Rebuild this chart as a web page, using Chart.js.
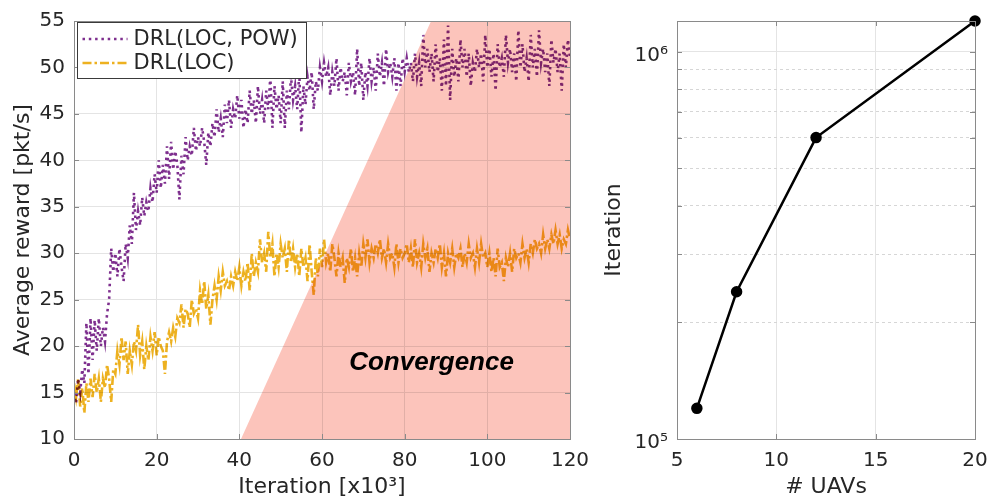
<!DOCTYPE html>
<html><head><meta charset="utf-8">
<script src="https://cdn.jsdelivr.net/npm/chart.js@4"></script>
<style>
html,body{margin:0;padding:0;background:#fff;overflow:hidden;width:989px;height:497px;}
#c1{position:absolute;left:0;top:0;}
#c2{position:absolute;left:590px;top:0;}
</style></head><body>
<canvas id="c1" width="590" height="497"></canvas>
<canvas id="c2" width="399" height="497"></canvas>
<script>
// ---------- data (left panel): average reward vs iteration [x10^3], sampled every 0.5k ----------
const iterStepK = 0.5;
const rewardLocPow = [
 15, 13.8, 16.5, 15, 17.5, 16, 22.5, 17, 23, 18.5, 22.8, 19.5, 23, 20, 22, 20.5, 23.5, 25, 30.5, 28,
 30, 27.5, 30.5, 28.5, 27, 31, 29.5, 33, 31, 36.5, 32.5, 34.5, 33, 36, 34, 35.5, 34.5, 37, 35.5, 38.5,
 36.5, 40, 37, 39.5, 37.5, 41.5, 38, 42, 39, 41, 39.5, 35.8, 40.5, 38.5, 42.5, 40, 41.5, 40.5, 43.5, 41,
 42.5, 41.5, 43.5, 42, 39.5, 43, 41.5, 44, 42.5, 45.5, 43, 44.5, 42.5, 46, 44, 46.5, 43.5, 45.5, 44.5, 47,
 44.5, 46.5, 43.5, 45.5, 44, 47.5, 45, 46.5, 44, 48, 45, 46.5, 44, 47.5, 45.5, 49, 43.5, 48, 45.5, 47,
 44, 48.5, 43.5, 47.5, 45.5, 49, 46.5, 48, 45.5, 49.5, 43, 48, 46, 49, 47.5, 49.5, 45.5, 48.5, 47.5, 50,
 48.5, 50.5, 49, 50, 47, 49.5, 48, 51, 47.5, 50, 48.5, 49.5, 47, 50.5, 48.5, 49.5, 47, 52, 48, 50.5,
 46.5, 49.5, 48, 51, 48.5, 50, 47.5, 51.5, 49, 50.5, 48, 52, 49.5, 50.5, 49, 51, 47.5, 50.5, 48, 51,
 49.5, 51, 49.5, 50.5, 48.5, 51.5, 49, 50.5, 48, 53.5, 50, 52, 49.5, 51.5, 48.5, 52.5, 49.5, 51, 47.5, 53,
 48, 54.5, 46.5, 52, 49, 51, 48.5, 53, 50, 52, 49, 51.5, 48, 50.5, 49.5, 52, 50, 51.5, 48.5, 53.5,
 50, 52, 49, 51.5, 47.5, 52.5, 50, 51, 49, 53.5, 50.5, 52, 49.5, 51.5, 48.5, 54, 50, 52.5, 49.5, 51,
 48.5, 53.5, 50, 52, 49, 54, 50.5, 52, 49.5, 51.5, 48, 53, 50.5, 52, 49.5, 51.5, 47.5, 52.5, 50, 53,
 51
];
const rewardLoc = [
 16, 14.5, 16.5, 13.5, 15.5, 12.8, 16, 14, 16.5, 14.5, 17, 15, 16.5, 14, 16.5, 15.5, 18, 16.5, 14, 17.5,
 17, 19.5, 18, 21, 18.5, 20.5, 17, 19.5, 18, 20.5, 19.5, 22.3, 19, 20.5, 17.5, 20, 18.5, 21, 19.5, 21.5,
 19, 21, 20, 19.5, 17, 20.5, 21.5, 20.5, 22, 21, 23, 22.5, 24.5, 22, 24, 23.5, 22, 25, 23.5, 24,
 23, 26, 24.5, 27, 24, 25.5, 22.3, 25, 26.5, 25, 27.5, 26, 28, 26.5, 27, 26, 27.5, 26.5, 28, 27,
 28.5, 26.5, 28, 27, 29, 26, 30, 27.5, 29, 28, 31.5, 29, 30, 28, 32.3, 29.5, 31, 27.5, 30, 28.5,
 31, 29.5, 30.5, 28, 31.5, 29, 30.5, 28.5, 30, 27.5, 30.5, 28.5, 29.5, 27, 31, 28, 25.5, 29.5, 27.5, 30.5,
 28.5, 31.5, 29, 30, 28, 31, 29.5, 27.5, 30, 28.5, 29.5, 26.8, 29.5, 28.5, 30.5, 28, 29.5, 27.5, 30, 28.5,
 31, 29.5, 31.5, 29, 30.5, 29.5, 31, 30, 31.5, 29.5, 30.5, 29, 31, 29.5, 30, 28.5, 31, 29, 30.5, 29.5,
 30, 31, 29, 30.5, 28.5, 31.5, 29, 30, 28.5, 31, 29.5, 30.5, 28, 30, 29, 30.5, 29.5, 31, 28.5, 30,
 27.5, 30, 29, 30.5, 28.5, 30, 29.5, 30.5, 28.5, 30, 29, 31, 29.5, 30, 28.5, 30.5, 29, 31, 29.5, 30,
 28.5, 30, 28, 29.5, 27.5, 30.5, 28.5, 29, 27, 29.5, 28.5, 30, 28, 30.5, 29.5, 30, 29, 31, 29.5, 30.5,
 29, 31, 30, 31.5, 30.5, 31, 30, 32, 30.5, 31.5, 30.5, 32, 31, 32.5, 31, 32, 30.5, 31.5, 31, 32.5,
 31.5
];
const iterationsK = rewardLocPow.map((_, i) => i * iterStepK);
const seriesNames = ['DRL(LOC, POW)', 'DRL(LOC)'];
// convergence region outline (x in k-iterations, y in reward)
const convergenceX = [40.4, 86.4, 120];
const convergenceY = [10, 55, 55];
const convergenceLabel = 'Convergence';
const convergenceLabelAt = [86.5, 18.2];
const xTicksLeft = [0, 20, 40, 60, 80, 100, 120];
const yTicksLeft = [10, 15, 20, 25, 30, 35, 40, 45, 50, 55];

// ---------- data (right panel): iterations to converge vs number of UAVs ----------
const numUAVs = [6, 8, 12, 20];
const itersToConverge = [1.2e5, 2.4e5, 6.0e5, 1.2e6];
const xTicksRight = [5, 10, 15, 20];

const FONT = '"DejaVu Sans", sans-serif';
const TXT = '#262626';
const AXIS = '#8a8a8a';
const GRID = '#e4e4e4';
const PURPLE = '#7E2F8E';
const ORANGE = '#EDB120';
const PINK = 'rgb(252,196,187)';

const multiplyPlugin = {
  id: 'multiply',
  beforeDatasetsDraw(chart) { chart.ctx.save(); chart.ctx.globalCompositeOperation = 'multiply'; },
  afterDatasetsDraw(chart) { chart.ctx.restore(); }
};

function frameAndTicks(chart, xId, yId, len) {
  const ctx = chart.ctx, a = chart.chartArea;
  ctx.save();
  ctx.strokeStyle = AXIS; ctx.lineWidth = 1;
  ctx.strokeRect(Math.round(a.left) + 0.5, Math.round(a.top) + 0.5, Math.round(a.right - a.left), Math.round(a.bottom - a.top));
  ctx.beginPath();
  chart.scales[xId].ticks.forEach(t => {
    const px = Math.round(chart.scales[xId].getPixelForValue(t.value)) + 0.5;
    ctx.moveTo(px, a.bottom); ctx.lineTo(px, a.bottom - len);
    ctx.moveTo(px, a.top); ctx.lineTo(px, a.top + len);
  });
  chart.scales[yId].ticks.forEach(t => {
    const py = Math.round(chart.scales[yId].getPixelForValue(t.value)) + 0.5;
    ctx.moveTo(a.left, py); ctx.lineTo(a.left + len, py);
    ctx.moveTo(a.right, py); ctx.lineTo(a.right - len, py);
  });
  ctx.stroke();
  ctx.restore();
}

const leftDecor = {
  id: 'leftDecor',
  afterDraw(chart) {
    const ctx = chart.ctx, a = chart.chartArea;
    frameAndTicks(chart, 'x', 'y', 5);
    ctx.save();
    ctx.font = 'italic bold 26px "Liberation Sans", Arial, sans-serif';
    ctx.fillStyle = '#000';
    ctx.textAlign = 'center'; ctx.textBaseline = 'middle';
    ctx.fillText(convergenceLabel, chart.scales.x.getPixelForValue(convergenceLabelAt[0]), chart.scales.y.getPixelForValue(convergenceLabelAt[1]));
    ctx.restore();
    ctx.save();
    const bx = Math.round(a.left) + 3.5, by = Math.round(a.top) + 1.5, bw = 229, bh = 56;
    ctx.fillStyle = '#fff'; ctx.fillRect(bx, by, bw, bh);
    ctx.strokeStyle = '#3a3a3a'; ctx.lineWidth = 1; ctx.strokeRect(bx, by, bw, bh);
    ctx.font = '21px ' + FONT; ctx.fillStyle = TXT; ctx.textBaseline = 'middle'; ctx.textAlign = 'left';
    [0, 1].forEach(i => {
      const ds = chart.data.datasets[i];
      const yy = by + 16.5 + i * 24;
      ctx.save();
      ctx.strokeStyle = ds.borderColor; ctx.lineWidth = ds.borderWidth; ctx.setLineDash(ds.borderDash);
      ctx.beginPath(); ctx.moveTo(bx + 5, yy); ctx.lineTo(bx + 50, yy); ctx.stroke();
      ctx.restore();
      ctx.fillText(ds.label, bx + 56, yy + 1);
    });
    ctx.restore();
  }
};

const rightDecor = {
  id: 'rightDecor',
  afterDraw(chart) { frameAndTicks(chart, 'x', 'y', 5); }
};

const fitX = s => { s.height = 58; s.paddingLeft = 0; s.paddingRight = 0; };

new Chart(document.getElementById('c1'), {
  type: 'line',
  data: {
    datasets: [
      { label: seriesNames[0], data: iterationsK.map((x, i) => ({ x, y: rewardLocPow[i] })),
        borderColor: PURPLE, borderWidth: 2.6, borderDash: [2.5, 3.8], pointRadius: 0, tension: 0, fill: false, order: 1 },
      { label: seriesNames[1], data: iterationsK.map((x, i) => ({ x, y: rewardLoc[i] })),
        borderColor: ORANGE, borderWidth: 2.6, borderDash: [9, 3, 2.5, 3], pointRadius: 0, tension: 0, fill: false, order: 2 },
      { label: 'region', data: convergenceX.map((x, i) => ({ x, y: convergenceY[i] })),
        borderWidth: 0, borderColor: 'rgba(0,0,0,0)', backgroundColor: PINK, pointRadius: 0, fill: { value: 10 }, order: 10 }
    ]
  },
  options: {
    responsive: false, animation: false,
    layout: { padding: { left: 0, right: 20, top: 21, bottom: 0 } },
    plugins: { legend: { display: false }, tooltip: { enabled: false } },
    scales: {
      x: {
        type: 'linear', min: 0, max: 120,
        afterBuildTicks: s => { s.ticks = xTicksLeft.map(v => ({ value: v })); },
        afterFit: fitX,
        grid: { color: GRID, drawTicks: false },
        border: { color: AXIS },
        ticks: { padding: 10, color: TXT, font: { family: FONT, size: 20 }, maxRotation: 0 },
        title: { display: true, text: 'Iteration [x10³]', color: TXT, font: { family: FONT, size: 22, lineHeight: 1 }, padding: { top: 0, bottom: -1 } }
      },
      y: {
        type: 'linear', min: 10, max: 55,
        afterBuildTicks: s => { s.ticks = yTicksLeft.map(v => ({ value: v })); },
        afterFit: s => { s.width = 74; },
        grid: { color: GRID, drawTicks: false },
        border: { color: AXIS },
        ticks: { padding: 9, color: TXT, font: { family: FONT, size: 20 } },
        title: { display: true, text: 'Average reward [pkt/s]', color: TXT, font: { family: FONT, size: 22, lineHeight: 1 }, padding: { top: 12, bottom: 0 } }
      }
    }
  },
  plugins: [multiplyPlugin, leftDecor]
});

const isPow10 = v => Math.abs(Math.log10(v) - Math.round(Math.log10(v))) < 1e-9;
const supers = { '5': '⁵', '6': '⁶', '7': '⁷', '4': '⁴' };

new Chart(document.getElementById('c2'), {
  type: 'line',
  data: {
    datasets: [
      { label: 'Iteration', data: numUAVs.map((x, i) => ({ x, y: itersToConverge[i] })),
        borderColor: '#000', borderWidth: 2.5, pointRadius: 4.5, pointBackgroundColor: '#000', pointBorderColor: '#000',
        tension: 0, fill: false, clip: false }
    ]
  },
  options: {
    responsive: false, animation: false,
    layout: { padding: { left: 0, right: 14, top: 21, bottom: 0 } },
    plugins: { legend: { display: false }, tooltip: { enabled: false } },
    scales: {
      x: {
        type: 'linear', min: 5, max: 20,
        afterBuildTicks: s => { s.ticks = xTicksRight.map(v => ({ value: v })); },
        afterFit: fitX,
        grid: { color: GRID, drawTicks: false },
        border: { color: AXIS },
        ticks: { padding: 10, color: TXT, font: { family: FONT, size: 20 }, maxRotation: 0 },
        title: { display: true, text: '# UAVs', color: TXT, font: { family: FONT, size: 22, lineHeight: 1 }, padding: { top: 0, bottom: -1 } }
      },
      y: {
        type: 'logarithmic', min: 1e5, max: 1.2e6,
        afterFit: s => { s.width = 87; },
        grid: { color: c => (c.tick && isPow10(c.tick.value)) ? GRID : '#d6d6d6', drawTicks: false },
        border: { color: AXIS, dash: c => (c.tick && !isPow10(c.tick.value)) ? [3, 3] : [] },
        ticks: {
          padding: 9, color: TXT, autoSkip: false, labelOffset: 4, font: { family: FONT, size: 20 },
          callback: v => isPow10(v) ? '10' + supers[String(Math.round(Math.log10(v)))] : ''
        },
        title: { display: true, text: 'Iteration', color: TXT, font: { family: FONT, size: 22, lineHeight: 1 }, padding: { top: 13, bottom: 0 } }
      }
    }
  },
  plugins: [rightDecor]
});
</script>
</body></html>
